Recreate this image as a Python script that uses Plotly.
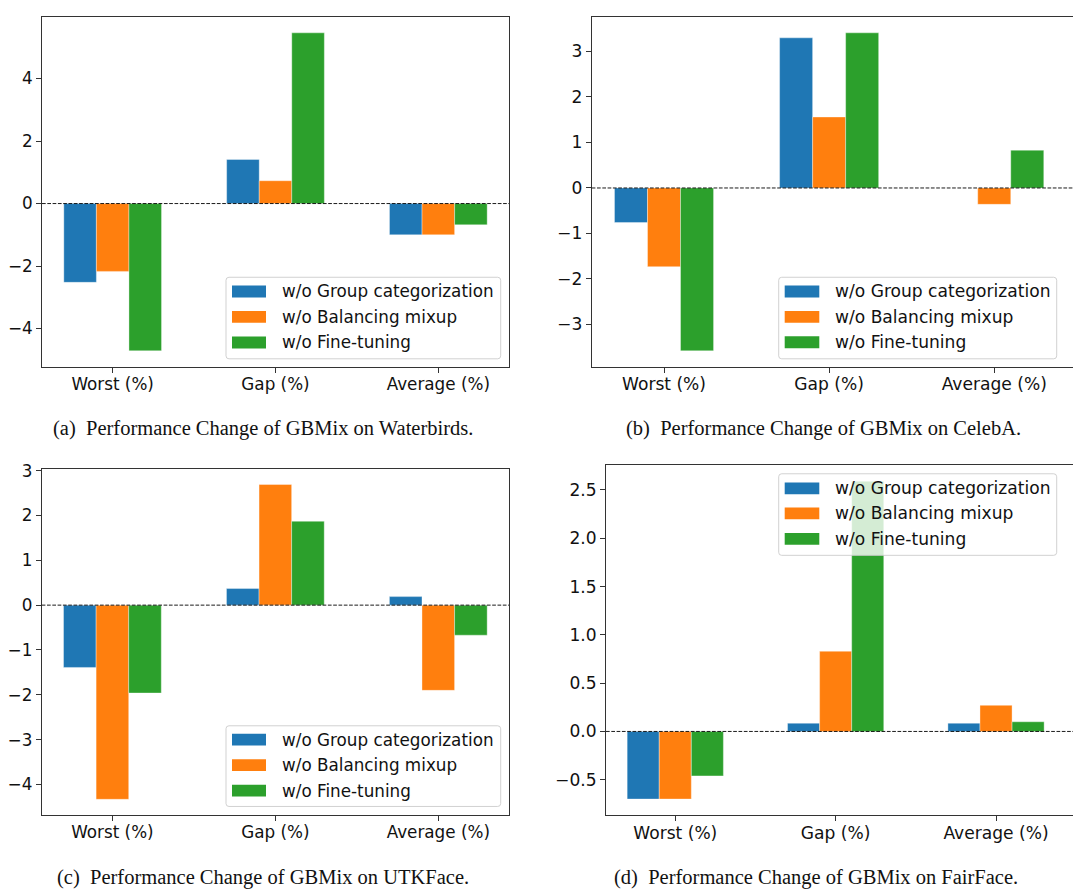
import plotly.graph_objects as go

# ---------------- data ----------------
categories = ["Worst (%)", "Gap (%)", "Average (%)"]
series_names = ["w/o Group categorization", "w/o Balancing mixup", "w/o Fine-tuning"]
series_colors = ["#1f77b4", "#ff7f0e", "#2ca02c"]

# performance change per dataset: one list per ablation, values for Worst / Gap / Average
waterbirds_group = [-2.52, 1.41, -1.00]
waterbirds_mixup = [-2.17, 0.73, -1.00]
waterbirds_finetune = [-4.71, 5.46, -0.68]

celeba_group = [-0.76, 3.30, 0.00]
celeba_mixup = [-1.73, 1.56, -0.36]
celeba_finetune = [-3.58, 3.41, 0.83]

utkface_group = [-1.39, 0.37, 0.19]
utkface_mixup = [-4.33, 2.69, -1.90]
utkface_finetune = [-1.96, 1.87, -0.67]

fairface_group = [-0.70, 0.085, 0.085]
fairface_mixup = [-0.70, 0.83, 0.27]
fairface_finetune = [-0.46, 2.59, 0.10]

captions = [
    "(a)\u2002Performance Change of GBMix on Waterbirds.",
    "(b)\u2002Performance Change of GBMix on CelebA.",
    "(c)\u2002Performance Change of GBMix on UTKFace.",
    "(d)\u2002Performance Change of GBMix on FairFace.",
]

yticks_a = [-4, -2, 0, 2, 4]
yticks_b = [-3, -2, -1, 0, 1, 2, 3]
yticks_c = [-4, -3, -2, -1, 0, 1, 2, 3]
yticks_d = [-0.5, 0.0, 0.5, 1.0, 1.5, 2.0, 2.5]

# ---------------- layout helpers ----------------
W, H = 1073, 891
FONT = "DejaVu Sans"
AXIS_COLOR = "#333333"


def px(x):
    return x / W


def py(y):
    return 1 - y / H


def tick_text(vals, decimals):
    out = []
    for v in vals:
        s = f"{abs(v):.{decimals}f}"
        out.append(("\u2212" + s) if v < 0 else s)
    return out


panels = [
    dict(data=[waterbirds_group, waterbirds_mixup, waterbirds_finetune],
         xdom=[42, 509], ydom=[9, 362], xr=[-0.434, 2.434], yr=[-5.22, 5.97],
         yt=yticks_a, dec=0, mirror_right=True, fs=16.8,
         legend=dict(box=[226, 271.7, 500.7, 354], patch=[232, 266], text_x=280,
                     rows=[286, 311.7, 337.5]),
         cap=(263, 424)),
    dict(data=[celeba_group, celeba_mixup, celeba_finetune],
         xdom=[591.7, 1073], ydom=[9, 362], xr=[-0.438, 2.477], yr=[-3.93, 3.76],
         yt=yticks_b, dec=0, mirror_right=False, fs=17.1,
         legend=dict(box=[778.7, 271.7, 1056.7, 354], patch=[784.7, 819.3], text_x=833.3,
                     rows=[286, 311.7, 337.3]),
         cap=(823, 424)),
    dict(data=[utkface_group, utkface_mixup, utkface_finetune],
         xdom=[41.7, 509], ydom=[465, 814.3], xr=[-0.434, 2.434], yr=[-4.68, 3.04],
         yt=yticks_c, dec=0, mirror_right=True, fs=16.8,
         legend=dict(box=[226, 724.3, 500.7, 805.7], patch=[232, 266], text_x=280,
                     rows=[738.3, 764, 789.7]),
         cap=(263, 877.5)),
    dict(data=[fairface_group, fairface_mixup, fairface_finetune],
         xdom=[606, 1073], ydom=[461.5, 814.3], xr=[-0.432, 2.48], yr=[-0.865, 2.755],
         yt=yticks_d, dec=1, mirror_right=False, fs=17.1,
         legend=dict(box=[778.7, 470, 1056.7, 552.3], patch=[784.7, 819.3], text_x=833.3,
                     rows=[484.7, 510, 535.7]),
         cap=(816, 877.5)),
]

fig = go.Figure()
shapes = []
annotations = []
layout_axes = {}

for i, p in enumerate(panels):
    n = "" if i == 0 else str(i + 1)
    xa, ya = "x" + n, "y" + n

    for vals, name, color in zip(p["data"], series_names, series_colors):
        fig.add_trace(go.Bar(
            x=categories, y=vals, name=name, xaxis=xa, yaxis=ya,
            marker=dict(color=color, line=dict(color="rgba(255,255,255,0.45)", width=0.8)),
            showlegend=False,
        ))

    layout_axes["xaxis" + n] = dict(
        domain=[px(p["xdom"][0]), px(p["xdom"][1])], anchor=ya,
        range=p["xr"], type="category", showgrid=False, zeroline=False,
        showline=True, linecolor=AXIS_COLOR, linewidth=1, mirror=True,
        ticks="outside", ticklen=5, tickwidth=1, tickcolor=AXIS_COLOR,
        ticklabelstandoff=-3,
        tickfont=dict(family=FONT, size=p["fs"], color="#111111"),
    )
    layout_axes["yaxis" + n] = dict(
        domain=[py(p["ydom"][1]), py(p["ydom"][0])], anchor=xa,
        range=p["yr"], showgrid=False, zeroline=False,
        showline=True, linecolor=AXIS_COLOR, linewidth=1, mirror=p["mirror_right"],
        ticks="outside", ticklen=5, tickwidth=1, tickcolor=AXIS_COLOR,
        tickvals=p["yt"], ticktext=tick_text(p["yt"], p["dec"]),
        tickfont=dict(family=FONT, size=p["fs"], color="#111111"),
    )

    # dashed reference line at zero
    shapes.append(dict(type="line", xref=xa + " domain", yref=ya, x0=0, x1=1, y0=0, y1=0,
                       line=dict(color="black", width=0.9, dash="3.7px,1.6px"), layer="above"))

    # legend frame with rounded corners
    lg = p["legend"]
    l, t, r, b = lg["box"]
    rad = 3
    path = (f"M {px(l + rad)},{py(t)} L {px(r - rad)},{py(t)} "
            f"Q {px(r)},{py(t)} {px(r)},{py(t + rad)} L {px(r)},{py(b - rad)} "
            f"Q {px(r)},{py(b)} {px(r - rad)},{py(b)} L {px(l + rad)},{py(b)} "
            f"Q {px(l)},{py(b)} {px(l)},{py(b - rad)} L {px(l)},{py(t + rad)} "
            f"Q {px(l)},{py(t)} {px(l + rad)},{py(t)} Z")
    shapes.append(dict(type="path", xref="paper", yref="paper", path=path,
                       fillcolor="rgba(255,255,255,0.8)",
                       line=dict(color="rgba(204,204,204,0.9)", width=1), layer="above"))
    for row_y, name, color in zip(lg["rows"], series_names, series_colors):
        shapes.append(dict(type="rect", xref="paper", yref="paper",
                           x0=px(lg["patch"][0]), x1=px(lg["patch"][1]),
                           y0=py(row_y - 6), y1=py(row_y + 6),
                           fillcolor=color, line=dict(width=0), layer="above"))
        annotations.append(dict(xref="paper", yref="paper", x=px(lg["text_x"]), y=py(row_y),
                                xanchor="left", yanchor="middle", showarrow=False, text=name,
                                font=dict(family=FONT, size=p["fs"], color="#111111")))

    # panel caption
    cx, cy = p["cap"]
    annotations.append(dict(xref="paper", yref="paper", x=px(cx), y=py(cy),
                            xanchor="center", yanchor="middle", showarrow=False,
                            text=captions[i],
                            font=dict(family="Liberation Serif", size=20.5, color="#111111")))

fig.update_layout(
    width=W, height=H, autosize=False,
    margin=dict(l=0, r=0, t=0, b=0),
    paper_bgcolor="white", plot_bgcolor="white",
    barmode="group", bargap=0.4, bargroupgap=0,
    shapes=shapes, annotations=annotations,
    **layout_axes,
)

fig.write_html("out.html")
